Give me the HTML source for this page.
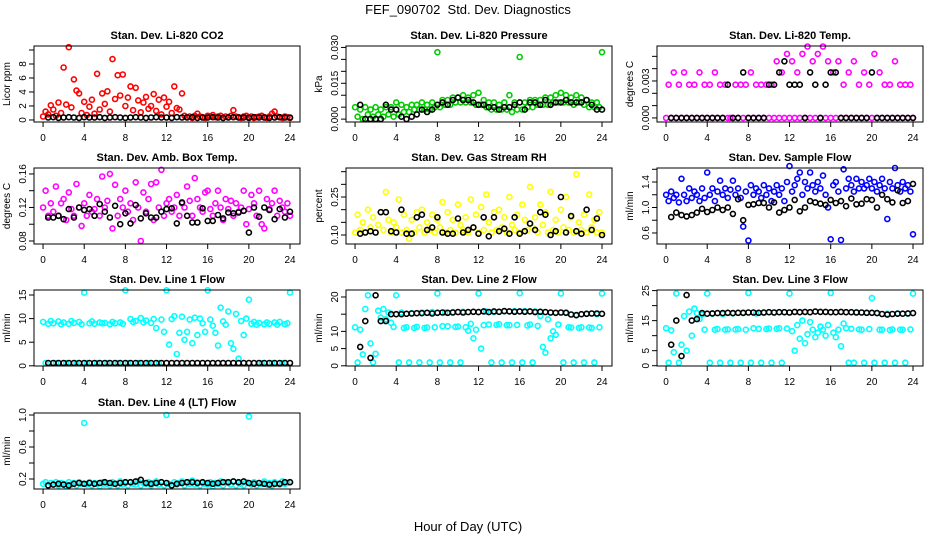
<!DOCTYPE html>
<html><head><meta charset="utf-8">
<style>
html,body{margin:0;padding:0;background:#fff;}
svg{display:block;font-family:"Liberation Sans",Arial,sans-serif;}
</style></head>
<body>
<svg id="chart" width="936" height="540" viewBox="0 0 936 540">
<text x="468" y="14" text-anchor="middle" font-size="13">FEF_090702&#160; Std. Dev. Diagnostics</text>
<text x="468" y="531" text-anchor="middle" font-size="13">Hour of Day (UTC)</text>
</svg>
<script>
const xTicks = [0,4,8,12,16,20,24];

const co2Color = [0.5,1.2,0.8,2.1,1.5,0.6,2.5,1.0,7.5,2.2,10.4,1.8,5.8,4.2,3.8,1.0,2.6,0.7,1.9,2.9,0.9,6.6,1.5,3.8,2.3,4.1,1.2,8.7,3.0,6.4,3.5,6.5,2.0,3.2,4.8,1.4,4.6,2.8,1.1,2.5,3.3,1.6,2.0,3.7,1.3,2.9,0.8,3.2,1.9,2.6,1.0,4.8,1.7,1.5,3.8,0.6,0.4,0.5,0.3,0.6,0.9,0.5,0.4,0.3,0.6,0.5,0.7,0.4,0.5,0.6,0.3,0.5,0.4,0.6,1.4,0.5,0.4,0.3,0.5,0.6,0.4,0.5,0.3,0.4,0.5,0.6,0.4,0.3,0.5,0.9,1.2,0.5,0.4,0.3,0.5,0.4,0.3];
const co2Black = [0.35,0.4,0.3,0.35,0.4,0.35,0.3,0.4,0.35,0.35,0.4,0.3,0.35,0.4,0.35,0.3,0.35,0.4,0.35,0.3,0.35,0.4,0.35,0.35,0.3,0.4,0.35,0.35,0.4,0.3,0.35,0.35,0.4,0.35,0.3,0.35,0.4,0.35,0.35,0.3,0.4,0.35,0.35,0.3,0.35,0.4,0.35,0.35];

const pressColor = [0.005,0.001,0.004,0.000,0.005,0.002,0.004,0.001,0.005,0.002,0.004,0.001,0.005,0.002,0.005,0.001,0.007,0.002,0.006,0.003,0.005,0.003,0.006,0.004,0.006,0.004,0.007,0.004,0.006,0.004,0.007,0.005,0.028,0.005,0.008,0.006,0.008,0.006,0.009,0.007,0.009,0.007,0.010,0.007,0.009,0.007,0.010,0.006,0.011,0.006,0.008,0.005,0.007,0.004,0.007,0.004,0.006,0.004,0.007,0.004,0.010,0.003,0.007,0.004,0.026,0.004,0.007,0.005,0.008,0.005,0.008,0.006,0.008,0.006,0.009,0.006,0.009,0.007,0.010,0.007,0.011,0.007,0.010,0.007,0.009,0.006,0.010,0.007,0.009,0.006,0.008,0.005,0.007,0.005,0.007,0.005,0.028];
const pressBlack = [0.006,0.000,0.000,0.000,0.000,0.006,0.004,0.004,0.001,0.000,0.001,0.002,0.004,0.003,0.004,0.006,0.007,0.006,0.008,0.009,0.008,0.008,0.007,0.006,0.006,0.005,0.005,0.004,0.005,0.005,0.006,0.007,0.004,0.007,0.007,0.006,0.008,0.006,0.007,0.007,0.008,0.007,0.007,0.007,0.008,0.006,0.004,0.004];

const tempColor = [0,0.0027,0,0.0037,0,0.0027,0,0.0037,0,0.0027,0,0.0027,0,0.0037,0,0.0027,0,0.0027,0,0.0037,0,0.0027,0,0.0027,0,0,0,0.0027,0,0.0027,0,0.0027,0,0.0037,0,0.0027,0,0.0027,0,0.0027,0,0.0027,0,0.0046,0,0.0037,0,0.0052,0,0.0046,0,0.0037,0,0.0052,0,0.0058,0,0.0046,0,0.0052,0,0.0058,0,0.0046,0,0.0037,0,0.0046,0,0.0027,0,0.0037,0,0.0046,0,0.0027,0,0.0037,0,0.0027,0,0.0052,0,0.0037,0,0.0027,0,0.0027,0,0.0046,0,0.0027,0,0.0027,0,0.0027,0];
const tempBlack = [0,0,0,0,0,0,0,0,0,0,0,0.0027,0,0,0.0037,0,0,0,0,0.0027,0.0027,0.0037,0.0046,0.0027,0.0027,0.0027,0,0.0037,0.0027,0,0.0027,0.0037,0.0037,0,0,0,0,0,0,0.0037,0,0,0,0,0,0,0,0];

const ambColor = [0.12,0.14,0.11,0.125,0.115,0.145,0.11,0.125,0.13,0.105,0.138,0.118,0.11,0.148,0.12,0.098,0.125,0.11,0.135,0.115,0.118,0.13,0.11,0.157,0.12,0.128,0.16,0.095,0.147,0.11,0.13,0.12,0.14,0.115,0.125,0.105,0.15,0.12,0.08,0.138,0.115,0.13,0.148,0.105,0.15,0.12,0.165,0.11,0.125,0.13,0.115,0.12,0.135,0.11,0.125,0.12,0.145,0.128,0.11,0.155,0.13,0.12,0.115,0.138,0.14,0.118,0.11,0.125,0.14,0.12,0.105,0.13,0.118,0.128,0.11,0.125,0.115,0.12,0.14,0.1,0.118,0.135,0.125,0.11,0.14,0.1,0.095,0.13,0.118,0.125,0.14,0.11,0.128,0.12,0.115,0.125,0.11];
const ambBlack = [0.108,0.108,0.11,0.106,0.118,0.108,0.12,0.117,0.118,0.11,0.124,0.115,0.108,0.122,0.1,0.113,0.101,0.123,0.107,0.113,0.108,0.108,0.115,0.118,0.119,0.101,0.126,0.11,0.102,0.102,0.119,0.104,0.104,0.111,0.107,0.114,0.113,0.114,0.116,0.09,0.12,0.109,0.12,0.117,0.106,0.118,0.108,0.115];

const rhColor = [0.11,0.18,0.12,0.15,0.11,0.2,0.13,0.17,0.11,0.14,0.19,0.12,0.27,0.16,0.11,0.15,0.13,0.24,0.11,0.18,0.12,0.085,0.16,0.11,0.19,0.13,0.2,0.11,0.15,0.12,0.18,0.11,0.16,0.13,0.23,0.11,0.19,0.12,0.16,0.11,0.22,0.14,0.12,0.17,0.11,0.24,0.13,0.18,0.11,0.21,0.12,0.26,0.15,0.11,0.19,0.12,0.2,0.13,0.17,0.11,0.25,0.14,0.12,0.18,0.11,0.22,0.16,0.12,0.29,0.13,0.17,0.11,0.22,0.14,0.19,0.11,0.27,0.12,0.16,0.11,0.2,0.13,0.25,0.12,0.17,0.11,0.34,0.15,0.12,0.18,0.11,0.26,0.13,0.16,0.11,0.19,0.11];
const rhBlack = [0.105,0.11,0.115,0.11,0.19,0.19,0.115,0.11,0.2,0.105,0.105,0.17,0.18,0.12,0.13,0.17,0.11,0.105,0.105,0.165,0.11,0.12,0.13,0.105,0.17,0.095,0.17,0.115,0.125,0.105,0.17,0.105,0.115,0.145,0.12,0.19,0.18,0.1,0.115,0.25,0.11,0.175,0.115,0.105,0.2,0.12,0.165,0.1];

const flowColor = [1.2,1.1,1.25,1.15,1.2,1.08,1.45,1.2,1.1,1.3,1.15,1.25,1.2,1.1,1.3,1.15,1.55,1.2,1.3,1.1,1.25,1.42,1.2,1.3,1.15,1.28,1.42,1.2,1.3,1.15,0.7,1.25,0.48,1.35,1.2,1.3,1.25,1.15,1.35,1.2,1.3,1.1,1.25,1.35,1.2,1.3,1.1,1.4,1.65,1.25,1.35,1.45,1.55,1.2,1.4,1.3,1.55,1.35,1.25,1.4,1.3,1.5,1.2,1.0,0.5,1.35,1.4,1.25,0.49,1.6,1.3,1.45,1.35,1.25,1.45,1.3,1.4,1.3,1.35,1.45,1.3,1.4,1.25,1.35,1.45,1.3,0.82,1.4,1.3,1.62,1.35,1.25,1.4,1.3,1.35,1.25,0.58];
const flowBlack = [0.85,0.92,0.88,0.86,0.88,0.92,0.98,0.93,0.96,1.0,0.96,1.0,0.9,1.13,0.8,1.04,1.05,1.07,1.07,1.0,1.08,0.92,0.96,1.0,1.12,0.94,1.0,1.1,1.08,1.06,1.04,1.12,1.07,1.1,1.02,1.14,1.05,1.06,1.13,1.12,1.0,1.2,1.13,1.08,1.27,1.07,1.1,1.37];

const line1Color = [9.3,0.6,8.9,9.5,9.0,0.6,9.4,8.8,9.2,0.6,8.9,9.5,9.1,0.6,9.3,8.8,15.5,0.6,9.0,9.4,8.9,0.6,9.2,9.0,9.1,0.6,8.8,9.3,9.0,0.6,9.2,8.9,16.0,0.6,9.9,9.3,9.5,0.6,10.1,9.2,9.6,0.6,9.1,9.9,8.0,0.6,9.8,7.2,16.0,4.5,9.9,10.5,2.5,7.0,10.4,5.5,7.2,9.8,4.8,10.2,6.5,10.0,9.0,7.2,16.0,9.8,8.5,7.0,4.3,12.3,9.4,8.7,11.5,4.8,3.6,11.0,1.5,9.5,6.5,10.0,14.0,8.9,9.3,8.7,9.1,0.6,8.8,9.2,8.9,0.6,9.2,8.7,9.3,0.6,8.8,9.0,15.5];
const line1Black = [0.6,0.6,0.6,0.6,0.6,0.6,0.6,0.6,0.6,0.6,0.6,0.6,0.6,0.6,0.6,0.6,0.6,0.6,0.6,0.6,0.6,0.6,0.6,0.6,0.6,0.6,0.6,0.6,0.6,0.6,0.6,0.6,0.6,0.6,0.6,0.6,0.6,0.6,0.6,0.6,0.6,0.6,0.6,0.6,0.6,0.6,0.6,0.6];

const line2Color = [11.2,1,10.5,3.3,16.5,20.5,6.5,1,3.5,16,14,16.5,13.5,15.5,12.5,11.3,20.5,1,15.5,11,11.2,1,15.3,11.0,11.3,1,15.5,11,11.1,1,15.6,11.2,21.0,1,11.5,15.5,11.5,1,15.6,11.3,11.4,1,15.7,11.2,10.2,12.2,8,10.5,21,5,11.8,15.8,12,1,15.6,11.9,12.1,1,15.8,11.8,11.8,1,15.9,11.9,21.1,1,15.9,11.7,12,1,15.8,11.6,14.5,5.5,3.8,13.5,8,10,9,12,21,1,15.5,11.2,11.1,1,14.8,11.0,11.2,1,15.1,11.1,11.0,1,15.0,11.2,21];
const line2Black = [5.5,13,2.3,20.5,13,13,15,15,15,15.1,15.2,15.3,15.3,15.4,15.2,15.4,15.5,15.4,15.5,15.6,15.5,15.6,15.7,15.6,15.8,15.6,15.8,15.7,15.9,15.8,15.7,15.8,15.7,15.8,15.6,15.7,15.6,15.5,15.4,15.5,15.4,14.9,14.7,15.0,15.1,15.2,15.2,15.1];

const line3Color = [12.5,1,11.8,4.5,24,1,7,16.5,5,18,10,19,17.5,15.5,17,12,24,1,17.3,12,12.2,1,17.2,12,12.1,1,17.4,12.1,12.2,1,17.5,12,24.2,1,12.5,17.4,12.3,1,17.6,12.2,12.4,1,17.7,12.3,12.5,1,17.8,12.4,24,11.5,5,13.5,9,15,7.5,10.5,14.5,12,9.5,11,13,12,10,13.5,24.2,11,9.5,12,6.5,14,12.5,1,12.3,1,17.8,12.1,12,1,17.6,12.2,22.5,1,17.5,12,12,1,17.3,11.9,12.1,1,17.4,12,12,1,17.3,12.1,24];
const line3Black = [7,15,3.2,23.5,15,15.5,17.5,17.3,17.4,17.5,17.5,17.6,17.5,17.6,17.6,17.7,17.7,17.6,17.7,17.8,17.7,17.8,17.8,17.7,17.9,17.8,17.9,17.8,18,17.9,17.9,17.8,17.8,17.9,17.8,17.8,17.7,17.7,17.6,17.6,17.5,17.2,17.0,17.2,17.3,17.3,17.4,17.5];

const line4Color = [0.14,0.16,0.12,0.15,0.13,0.16,0.12,0.15,0.14,0.11,0.16,0.13,0.15,0.12,0.16,0.14,0.9,0.13,0.16,0.12,0.15,0.14,0.11,0.16,0.13,0.15,0.12,0.16,0.14,0.12,0.17,0.13,0.15,0.12,0.16,0.14,0.13,0.17,0.12,0.15,0.14,0.16,0.12,0.15,0.17,0.13,0.16,0.12,1.0,0.14,0.12,0.16,0.13,0.15,0.17,0.12,0.15,0.14,0.18,0.13,0.16,0.12,0.15,0.14,0.13,0.16,0.11,0.15,0.14,0.17,0.12,0.16,0.15,0.13,0.17,0.12,0.15,0.14,0.12,0.16,0.98,0.13,0.16,0.12,0.15,0.14,0.17,0.13,0.15,0.12,0.16,0.14,0.13,0.17,0.14,0.15,0.16];
const line4Black = [0.12,0.13,0.14,0.13,0.12,0.14,0.15,0.14,0.15,0.14,0.15,0.16,0.15,0.14,0.15,0.16,0.16,0.17,0.19,0.15,0.14,0.15,0.16,0.15,0.12,0.14,0.15,0.16,0.16,0.15,0.16,0.15,0.14,0.15,0.16,0.16,0.17,0.16,0.17,0.15,0.14,0.15,0.14,0.13,0.14,0.14,0.16,0.16];

const panels = [
 {name:'co2',title:'Stan. Dev. Li-820 CO2',ylab:'Licor ppm',col:0,row:0,ylim:[-0.29,10.57],ticks:[0,2,4,6,8,10],labels:['0','2','4','6','8',''],color:'#ff0000',c:co2Color,b:co2Black},
 {name:'pressure',title:'Stan. Dev. Li-820 Pressure',ylab:'kPa',col:1,row:0,ylim:[-0.0012,0.0306],ticks:[0,0.005,0.01,0.015,0.02,0.025,0.03],labels:['0.000','','','0.015','','','0.030'],color:'#00cc00',c:pressColor,b:pressBlack},
 {name:'temp',title:'Stan. Dev. Li-820 Temp.',ylab:'degrees C',col:2,row:0,ylim:[-0.00033,0.00584],ticks:[0,0.001,0.002,0.003,0.004,0.005],labels:['0.000','','','0.003','',''],color:'#ff00ff',c:tempColor,b:tempBlack},
 {name:'amb-temp',title:'Stan. Dev. Amb. Box Temp.',ylab:'degrees C',col:0,row:1,ylim:[0.0764,0.1671],ticks:[0.08,0.1,0.12,0.14,0.16],labels:['0.08','','0.12','','0.16'],color:'#ff00ff',c:ambColor,b:ambBlack},
 {name:'rh',title:'Stan. Dev. Gas Stream RH',ylab:'percent',col:1,row:1,ylim:[0.0645,0.3645],ticks:[0.1,0.15,0.2,0.25,0.3,0.35],labels:['0.10','','','0.25','',''],color:'#ffff00',c:rhColor,b:rhBlack},
 {name:'sample-flow',title:'Stan. Dev. Sample Flow',ylab:'ml/min',col:2,row:1,ylim:[0.427,1.62],ticks:[0.6,0.8,1.0,1.2,1.4,1.6],labels:['0.6','','1.0','','1.4',''],color:'#0000ff',c:flowColor,b:flowBlack},
 {name:'line1',title:'Stan. Dev. Line 1 Flow',ylab:'ml/min',col:0,row:2,ylim:[-0.04,16.06],ticks:[0,5,10,15],labels:['0','5','10','15'],color:'#00ffff',c:line1Color,b:line1Black},
 {name:'line2',title:'Stan. Dev. Line 2 Flow',ylab:'ml/min',col:1,row:2,ylim:[-0.06,22.03],ticks:[0,5,10,15,20],labels:['0','5','10','','20'],color:'#00ffff',c:line2Color,b:line2Black},
 {name:'line3',title:'Stan. Dev. Line 3 Flow',ylab:'ml/min',col:2,row:2,ylim:[-0.1,25.2],ticks:[0,5,10,15,20,25],labels:['0','5','','15','','25'],color:'#00ffff',c:line3Color,b:line3Black},
 {name:'line4',title:'Stan. Dev. Line 4 (LT) Flow',ylab:'ml/min',col:0,row:3,ylim:[0.075,1.025],ticks:[0.2,0.4,0.6,0.8,1.0],labels:['0.2','','0.6','','1.0'],color:'#00ffff',c:line4Color,b:line4Black}
];

const NS='http://www.w3.org/2000/svg';
const svg=document.getElementById('chart');
const colLeft=[34,346,657], rowTop=[46,168,290,413], W=266, H=76;
const XMIN=-0.88, XMAX=24.97;
function mk(tag,attrs,parent){const e=document.createElementNS(NS,tag);for(const k in attrs)e.setAttribute(k,attrs[k]);parent.appendChild(e);return e;}

panels.forEach(p=>{
  const L=colLeft[p.col], T=rowTop[p.row];
  const g=mk('g',{},svg);
  
  
  const xs=v=>L+(v-XMIN)/(XMAX-XMIN)*W;
  const ys=v=>T+H-(v-p.ylim[0])/(p.ylim[1]-p.ylim[0])*H;
  const t=mk('text',{x:L+W/2,y:T-7,'text-anchor':'middle','font-size':'11','font-weight':'600'},g);
  t.textContent=p.title;
  
  
  const yl=mk('text',{x:0,y:0,'text-anchor':'middle','font-size':'10',transform:`translate(${L-24},${T+H/2}) rotate(-90)`},g);
  yl.textContent=p.ylab;
  
  
  const pts=mk('g',{fill:'none','stroke-width':'1.6'},g);
  
  
  const n=p.c.length;
  p.c.forEach((v,i)=>{
    const hr=i*24/(n-1);
    const c=mk('circle',{cx:xs(hr).toFixed(1),cy:ys(v).toFixed(1),r:2.5,stroke:p.color},pts);
    
    
  });
  const nb=p.b.length;
  p.b.forEach((v,i)=>{
    const hr=0.5+i*23.5/(nb-1);
    const c=mk('circle',{cx:xs(hr).toFixed(1),cy:ys(v).toFixed(1),r:2.5,stroke:'#000'},pts);
    
    
  });
  const box=mk('rect',{x:L,y:T,width:W,height:H,fill:'none',stroke:'#000','stroke-width':'1'},g);
  
  
  const xa=mk('g',{},g);
  
  
  xTicks.forEach(v=>{
    const x=xs(v);
    mk('line',{x1:x,x2:x,y1:T+H,y2:T+H+5,stroke:'#000'},xa);
    const tl=mk('text',{x:x,y:T+H+19,'text-anchor':'middle','font-size':'10'},xa);
    tl.textContent=v;
  });
  const ya=mk('g',{},g);
  
  
  p.ticks.forEach((v,i)=>{
    const y=ys(v);
    mk('line',{x1:L-5,x2:L,y1:y,y2:y,stroke:'#000'},ya);
    if(p.labels[i]){
      const tl=mk('text',{x:0,y:0,'text-anchor':'middle','font-size':'10',transform:`translate(${L-8},${y}) rotate(-90)`},ya);
      tl.textContent=p.labels[i];
    }
  });
});
</script>
</body></html>
